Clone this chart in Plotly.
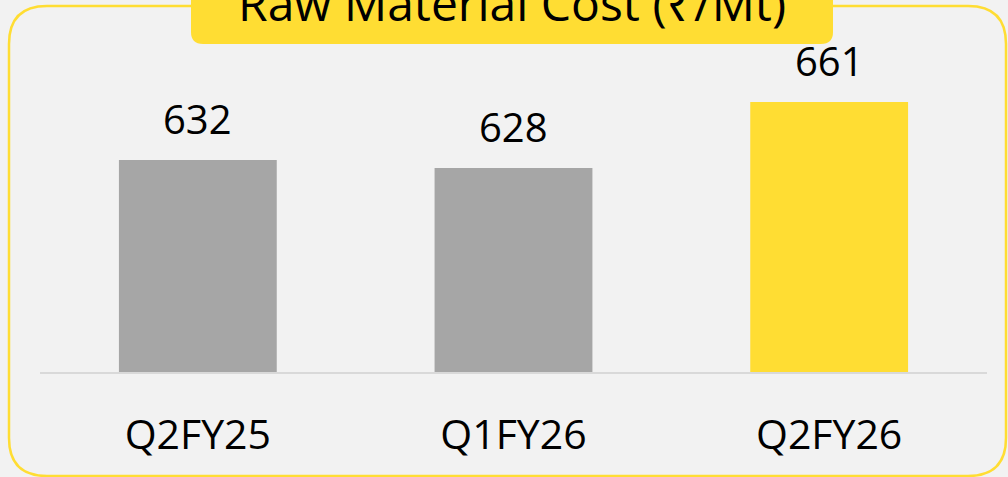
import plotly.graph_objects as go

categories = ["Q2FY25", "Q1FY26", "Q2FY26"]
values = [632, 628, 661]
bar_colors = ["#A6A6A6", "#A6A6A6", "#FFDD33"]
title_text = "Raw Material Cost (₹/Mt)"

W, H = 1008, 477
ML, MR, MT, MB = 40, 21, 57, 105
PW = W - ML - MR
PH = H - MT - MB
Y0 = 526
YMAX = Y0 + PH / 2.0

FONT = "Open Sans, Noto Sans, DejaVu Sans, sans-serif"


def px(x):
    return (x - ML) / PW


def py(y):
    return (H - MB - y) / PH


def rounded_path(x0, y0, x1, y1, r, top=True, bottom=True):
    rt = r if top else 0
    rb = r if bottom else 0
    pts = []
    pts.append(f"M {px(x0 + rt)},{py(y0)}")
    pts.append(f"L {px(x1 - rt)},{py(y0)}")
    if rt:
        pts.append(f"Q {px(x1)},{py(y0)} {px(x1)},{py(y0 + rt)}")
    pts.append(f"L {px(x1)},{py(y1 - rb)}")
    if rb:
        pts.append(f"Q {px(x1)},{py(y1)} {px(x1 - rb)},{py(y1)}")
    pts.append(f"L {px(x0 + rb)},{py(y1)}")
    if rb:
        pts.append(f"Q {px(x0)},{py(y1)} {px(x0)},{py(y1 - rb)}")
    pts.append(f"L {px(x0)},{py(y0 + rt)}")
    if rt:
        pts.append(f"Q {px(x0)},{py(y0)} {px(x0 + rt)},{py(y0)}")
    pts.append("Z")
    return " ".join(pts)


fig = go.Figure()
fig.add_trace(go.Bar(
    x=categories,
    y=values,
    marker=dict(color=bar_colors, line=dict(width=0)),
    hoverinfo="skip",
))

for c, v in zip(categories, values):
    fig.add_annotation(
        x=c, y=v, xref="x", yref="y",
        text=str(v), showarrow=False,
        yanchor="bottom", yshift=12,
        font=dict(family=FONT, size=40, color="#000000"),
    )

shapes = [
    dict(type="path", xref="paper", yref="paper",
         path=rounded_path(9, 6, 1006, 476, 38),
         line=dict(color="#FFDD33", width=2.5), fillcolor="rgba(0,0,0,0)",
         layer="below"),
    dict(type="path", xref="paper", yref="paper",
         path=rounded_path(191, -30, 833, 44, 12, top=False, bottom=True),
         line=dict(width=0), fillcolor="#FFDD33", layer="above"),
]

fig.add_annotation(
    x=px(512), y=py(25), xref="paper", yref="paper",
    text=title_text, showarrow=False, yanchor="bottom", xanchor="center",
    yshift=-12,
    font=dict(family=FONT, size=48, color="#000000"),
)

fig.update_layout(
    width=W, height=H,
    margin=dict(l=ML, r=MR, t=MT, b=MB, pad=0),
    paper_bgcolor="#F2F2F2",
    plot_bgcolor="#F2F2F2",
    bargap=0.5,
    showlegend=False,
    shapes=shapes,
    xaxis=dict(
        showline=True, linecolor="#D9D9D9", linewidth=2,
        showgrid=False, zeroline=False, ticks="",
        tickfont=dict(family=FONT, size=41, color="#000000"),
        ticklabelstandoff=26,
        fixedrange=True,
    ),
    yaxis=dict(
        range=[Y0, YMAX], visible=False, showgrid=False, zeroline=False,
        fixedrange=True,
    ),
)

fig.write_html(
    "out.html",
    config={"displayModeBar": False},
    post_script="document.body.style.margin='0';document.body.style.background='#F2F2F2';",
)
